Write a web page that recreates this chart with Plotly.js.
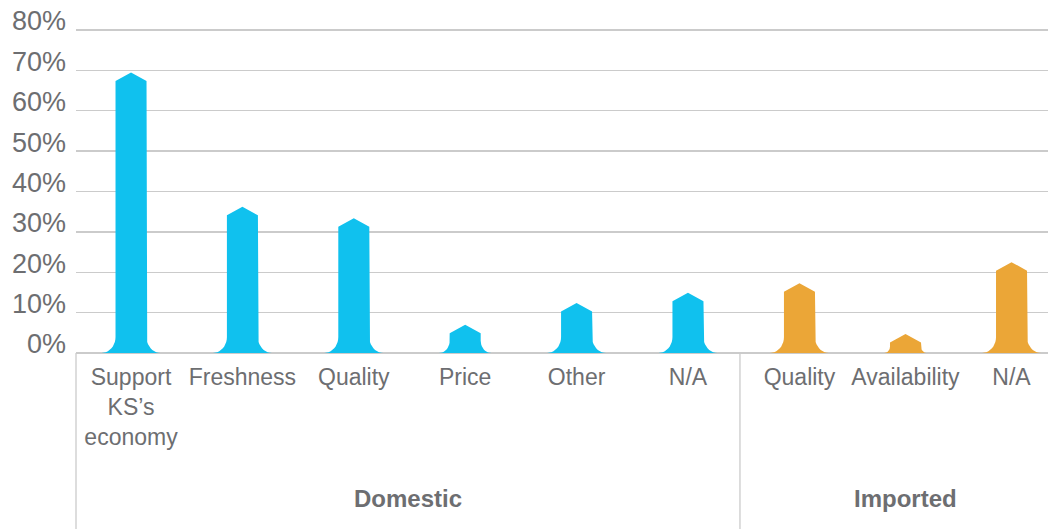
<!DOCTYPE html>
<html>
<head>
<meta charset="utf-8">
<script src="https://cdn.plot.ly/plotly-3.0.1.min.js"></script>
<style>html,body{margin:0;padding:0;background:#fff;}#chart{width:1048px;height:529px;}</style>
</head>
<body>
<div id="chart"></div>
<script>
// ---- data ----
const domesticLabels = ['Support<br>KS’s<br>economy', 'Freshness', 'Quality', 'Price', 'Other', 'N/A'];
const domesticValues = [69.5, 36.2, 33.4, 7.0, 12.4, 14.9];
const importedLabels = ['Quality', 'Availability', 'N/A'];
const importedValues = [17.3, 4.7, 22.5];
const groupLabels = ['Domestic', 'Imported'];
const yTicks = [0, 10, 20, 30, 40, 50, 60, 70, 80];

// ---- style ----
const W = 1048, H = 529;
const M = {l: 76, r: 0, t: 29, b: 176};
const plotW = W - M.l - M.r, plotH = H - M.t - M.b;
const yRange = [0, 80.25];
const split = 0.6831;
const xRange1 = [-0.494, 5.467];
const xRange2 = [-0.561, 2.344];
const blue = '#10c1ee', orange = '#eba637';
const grey = '#cbcbcb', textGrey = '#6d6e71';
const FONT = 'Liberation Sans, Arial, Helvetica, sans-serif';

const pxPerY = plotH / (yRange[1] - yRange[0]);

function barPolys(values, pxPerX) {
  const xs = [], ys = [];
  const hw = 15.5 / pxPerX, rise = 8.5 / pxPerY;
  values.forEach((v, i) => {
    const sh = Math.max(v - rise, 0.5 / pxPerY);
    const shPx = sh * pxPerY;
    const fhPx = Math.min(16, 0.62 * shPx);
    const fwPx = 14 * fhPx / 16;
    const fh = fhPx / pxPerY, fw = fwPx / pxPerX;
    const N = 10;
    for (let k = 0; k <= N; k++) {
      const t = (Math.PI / 2) * k / N;
      xs.push(i - hw - fw + fw * Math.sin(t));
      ys.push(fh - fh * Math.cos(t));
    }
    xs.push(i - hw); ys.push(sh);
    xs.push(i); ys.push(v);
    xs.push(i + hw); ys.push(sh);
    for (let k = N; k >= 0; k--) {
      const t = (Math.PI / 2) * k / N;
      xs.push(i + hw + fw - fw * Math.sin(t));
      ys.push(fh - fh * Math.cos(t));
    }
    xs.push(null); ys.push(null);
  });
  return {xs, ys};
}

const px1 = (split * plotW) / (xRange1[1] - xRange1[0]);
const px2 = ((1 - split) * plotW) / (xRange2[1] - xRange2[0]);
const p1 = barPolys(domesticValues, px1);
const p2 = barPolys(importedValues, px2);

const traces = [
  {type: 'scatter', mode: 'lines', x: p1.xs, y: p1.ys, fill: 'toself', fillcolor: blue,
   line: {width: 0, color: blue}, xaxis: 'x', yaxis: 'y', hoverinfo: 'skip', showlegend: false},
  {type: 'scatter', mode: 'lines', x: p2.xs, y: p2.ys, fill: 'toself', fillcolor: orange,
   line: {width: 0, color: orange}, xaxis: 'x2', yaxis: 'y', hoverinfo: 'skip', showlegend: false}
];

const xCommon = {
  tickmode: 'array', showgrid: false, zeroline: false, showline: false, ticks: '',
  tickfont: {family: FONT, size: 23, color: textGrey}, ticklabelstandoff: 8, fixedrange: true
};

const layout = {
  width: W, height: H, margin: M,
  paper_bgcolor: '#fff', plot_bgcolor: '#fff',
  showlegend: false,
  xaxis: Object.assign({}, xCommon, {domain: [0, split], range: xRange1,
    tickvals: domesticLabels.map((_, i) => i), ticktext: domesticLabels, anchor: 'y'}),
  xaxis2: Object.assign({}, xCommon, {domain: [split, 1], range: xRange2,
    tickvals: importedLabels.map((_, i) => i), ticktext: importedLabels, anchor: 'y'}),
  yaxis: {range: yRange, tickmode: 'array', tickvals: yTicks, ticktext: yTicks.map(v => v + '%'),
    showgrid: true, gridcolor: grey, gridwidth: 1.3, zeroline: true, zerolinecolor: grey, zerolinewidth: 1.3,
    showline: false, ticks: '', tickfont: {family: FONT, size: 27, color: textGrey},
    ticklabelstandoff: 9, ticklabelshift: -9, fixedrange: true},
  shapes: [
    {type: 'line', xref: 'paper', yref: 'paper', x0: 0, x1: 0, y0: 0, y1: -M.b / plotH,
     line: {color: grey, width: 1.3}},
    {type: 'line', xref: 'paper', yref: 'paper', x0: split, x1: split, y0: 0, y1: -M.b / plotH,
     line: {color: grey, width: 1.3}}
  ],
  annotations: [
    {text: '<b>' + groupLabels[0] + '</b>', xref: 'paper', yref: 'paper', x: split / 2, y: -145 / plotH,
     showarrow: false, xanchor: 'center', yanchor: 'middle', font: {family: FONT, size: 24, color: textGrey}},
    {text: '<b>' + groupLabels[1] + '</b>', xref: 'paper', yref: 'paper', x: (905 - M.l) / plotW, y: -145 / plotH,
     showarrow: false, xanchor: 'center', yanchor: 'middle', font: {family: FONT, size: 24, color: textGrey}}
  ]
};

Plotly.newPlot('chart', traces, layout, {staticPlot: true, displayModeBar: false});
</script>
</body>
</html>
